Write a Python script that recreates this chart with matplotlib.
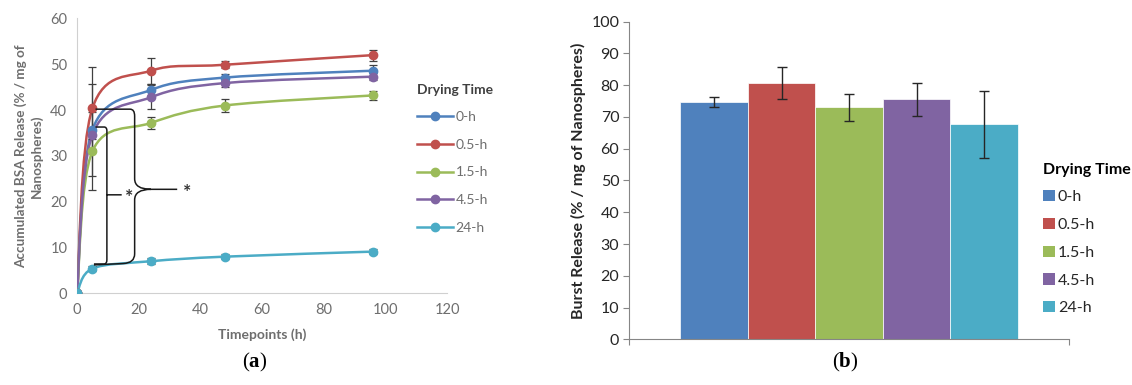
import matplotlib
matplotlib.use("Agg")
import matplotlib.pyplot as plt
from matplotlib.path import Path
from matplotlib.patches import PathPatch
from matplotlib.lines import Line2D
from matplotlib.patches import Patch

plt.rcParams['font.family'] = ['Lato', 'DejaVu Sans']
plt.rcParams['mathtext.fontset'] = 'custom'
plt.rcParams['mathtext.rm'] = 'Liberation Serif'
plt.rcParams['mathtext.bf'] = 'Liberation Serif:bold'

groups = ['0-h', '0.5-h', '1.5-h', '4.5-h', '24-h']
colors = ['#4F81BD', '#C0504D', '#9BBB59', '#8064A2', '#4BACC6']

# release profile (panel a)
times = [0, 5, 24, 48, 96]
rel_0h = [0, 35.7, 44.4, 47.1, 48.6]
rel_05h = [0, 40.4, 48.6, 49.9, 52.0]
rel_15h = [0, 31.0, 37.2, 41.0, 43.2]
rel_45h = [0, 34.6, 42.8, 45.9, 47.3]
rel_24h = [0, 5.4, 7.0, 8.0, 9.1]
err_0h = [0, 10.1, 1.3, 0.8, 1.3]
err_05h = [0, 9.0, 2.8, 0.8, 1.2]
err_15h = [0, 8.5, 1.3, 1.4, 1.0]
err_45h = [0, 1.0, 2.6, 0.8, 0.8]
err_24h = [0, 0.6, 0.6, 0.5, 0.5]

# burst release (panel b)
burst = [74.6, 80.6, 73.0, 75.6, 67.7]
burst_err = [1.6, 5.0, 4.2, 5.2, 10.6]

releases = [rel_0h, rel_05h, rel_15h, rel_45h, rel_24h]
errs = [err_0h, err_05h, err_15h, err_45h, err_24h]


def smooth_path(xs, ys):
    # bezier through the points, control points like a spreadsheet "smoothed line"
    pts = list(zip(xs, ys))
    n = len(pts)
    verts = [pts[0]]
    codes = [Path.MOVETO]
    for i in range(n - 1):
        p0 = pts[max(i - 1, 0)]
        p1 = pts[i]
        p2 = pts[i + 1]
        p3 = pts[min(i + 2, n - 1)]
        c1 = (p1[0] + (p2[0] - p0[0]) / 6, p1[1] + (p2[1] - p0[1]) / 6)
        c2 = (p2[0] - (p3[0] - p1[0]) / 6, p2[1] - (p3[1] - p1[1]) / 6)
        verts += [c1, c2, p2]
        codes += [Path.CURVE4] * 3
    return Path(verts, codes)


fig = plt.figure(figsize=(11.32, 3.85), dpi=100)

# ---------- panel a ----------
ax = fig.add_axes([0.068, 0.2382, 0.3269, 0.7138])
grey_txt = '#6e6e6e'
for rel, err, col in zip(releases, errs, colors):
    ax.add_patch(PathPatch(smooth_path(times, rel), fill=False, edgecolor=col, lw=1.8, zorder=3))
    ax.errorbar(times, rel, yerr=err, fmt='none', ecolor='#404040', elinewidth=0.9,
                capsize=3, capthick=0.9, zorder=4)
    ax.plot(times, rel, ls='none', marker='o', ms=6, color=col, zorder=5)

ax.set_xlim(0, 120)
ax.set_ylim(0, 60)
ax.set_xticks(range(0, 121, 20))
ax.set_yticks(range(0, 61, 10))
ax.tick_params(length=0, labelsize=10.5, labelcolor=grey_txt, pad=7)
for s in ['top', 'right']:
    ax.spines[s].set_visible(False)
for s in ['left', 'bottom']:
    ax.spines[s].set_color('#d0d0d0')
ax.set_xlabel('Timepoints (h)', fontsize=10, fontweight='bold', color=grey_txt, labelpad=8)
ax.set_ylabel('Accumulated BSA Release (% / mg of\nNanospheres)', fontsize=9.7,
              fontweight='bold', color=grey_txt, labelpad=5, linespacing=1.3)

# significance brackets
big_brace = Path(
    [(6, 40.2), (17.2, 40.2), (18.7, 40.2), (18.7, 38.7), (18.7, 25.0), (18.7, 22.7), (24, 22.7), (32.5, 22.7),
     (24, 22.7), (18.7, 22.7), (18.7, 20.4), (18.7, 8.6), (18.7, 6.6), (15, 6.5), (5.5, 6.2)],
    [Path.MOVETO, Path.LINETO, Path.CURVE3, Path.CURVE3, Path.LINETO, Path.CURVE3, Path.CURVE3, Path.LINETO,
     Path.MOVETO, Path.CURVE3, Path.CURVE3, Path.LINETO, Path.CURVE3, Path.CURVE3, Path.LINETO])
small_bracket = Path(
    [(6, 36.3), (8.8, 36.3), (9.7, 36.3), (9.7, 35.5), (9.7, 7.3), (9.7, 6.4), (8.8, 6.4), (5.5, 6.4),
     (9.7, 21.5), (14.5, 21.5)],
    [Path.MOVETO, Path.LINETO, Path.CURVE3, Path.CURVE3, Path.LINETO, Path.CURVE3, Path.CURVE3, Path.LINETO,
     Path.MOVETO, Path.LINETO])
ax.add_patch(PathPatch(big_brace, fill=False, edgecolor='#1a1a1a', lw=1.1, zorder=6))
ax.add_patch(PathPatch(small_bracket, fill=False, edgecolor='#1a1a1a', lw=1.1, zorder=6))
ax.text(16.8, 20.9, '*', fontsize=14, fontweight='bold', color='#333333', ha='center', va='center')
ax.text(35.8, 22.0, '*', fontsize=14, fontweight='bold', color='#333333', ha='center', va='center')

handles_a = [Line2D([], [], color=c, lw=1.8, marker='o', ms=6) for c in colors]
leg_a = fig.legend(handles_a, groups, loc='upper left', bbox_to_anchor=(0.357, 0.815),
                   frameon=False, fontsize=10, title='Drying Time', handlelength=2.6,
                   handletextpad=0.2, labelspacing=1.12, alignment='left',
                   title_fontproperties={'weight': 'bold', 'size': 10})
for t in leg_a.get_texts():
    t.set_color(grey_txt)
leg_a.get_title().set_color('#404040')

# ---------- panel b ----------
bx = fig.add_axes([0.5557, 0.1187, 0.3887, 0.825])
w = 0.1534
xpos = [1 + (i - 2) * w for i in range(len(groups))]
bx.bar(xpos, burst, width=w, color=colors, edgecolor='white', linewidth=0.5, zorder=2)
bx.errorbar(xpos, burst, yerr=burst_err, fmt='none', ecolor='#262626', elinewidth=1.0,
            capsize=3.5, capthick=1.0, zorder=3)
bx.set_xlim(0.5, 1.5)
bx.set_ylim(0, 100)
bx.set_yticks(range(0, 101, 10))
bx.set_xticks([0.5, 1.5])
bx.set_xticklabels([])
bx.tick_params(axis='y', length=4, color='#868686', labelsize=11.5, labelcolor='#262626', pad=3)
bx.tick_params(axis='x', length=4, color='#868686')
for s in ['top', 'right']:
    bx.spines[s].set_visible(False)
for s in ['left', 'bottom']:
    bx.spines[s].set_color('#868686')
bx.set_ylabel('Burst Release (% / mg of Nanospheres)', fontsize=11.5, fontweight='bold',
              color='#262626', labelpad=4)

handles_b = [Patch(facecolor=c) for c in colors]
leg_b = fig.legend(handles_b, groups, loc='upper left', bbox_to_anchor=(0.909, 0.615),
                   frameon=False, fontsize=11.5, title='Drying Time', handlelength=0.7,
                   handleheight=0.7, handletextpad=0.2, labelspacing=0.85, alignment='left',
                   title_fontproperties={'weight': 'bold', 'size': 11.5})
for t in leg_b.get_texts():
    t.set_color('#262626')

fig.text(0.2253, 0.028, r'$(\mathbf{a})$', fontsize=15, ha='center', va='bottom')
fig.text(0.7465, 0.028, r'$(\mathbf{b})$', fontsize=15, ha='center', va='bottom')

fig.savefig('out.png', dpi=100)
